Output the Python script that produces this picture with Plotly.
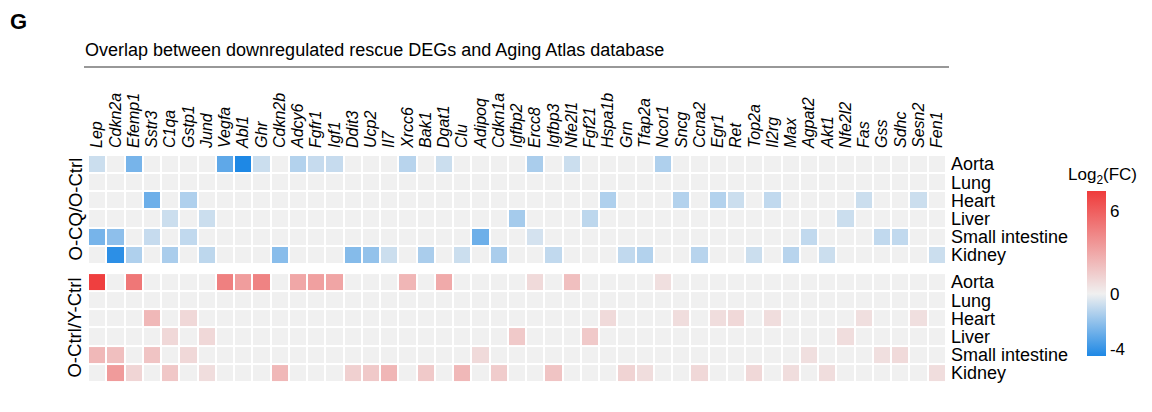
import plotly.graph_objects as go

genes = ["Lep", "Cdkn2a", "Efemp1", "Sstr3", "C1qa", "Gstp1", "Jund", "Vegfa", "Abl1", "Ghr",
         "Cdkn2b", "Adcy6", "Fgfr1", "Igf1", "Ddit3", "Ucp2", "Il7", "Xrcc6", "Bak1", "Dgat1",
         "Clu", "Adipoq", "Cdkn1a", "Igfbp2", "Ercc8", "Igfbp3", "Nfe2l1", "Fgf21", "Hspa1b", "Grn",
         "Tfap2a", "Ncor1", "Sncg", "Ccna2", "Egr1", "Ret", "Top2a", "Il2rg", "Max", "Agpat2",
         "Akt1", "Nfe2l2", "Fas", "Gss", "Sdhc", "Sesn2", "Fen1"]
tissues = ["Aorta", "Lung", "Heart", "Liver", "Small intestine", "Kidney"]
groups = ["O-CQ/O-Ctrl", "O-Ctrl/Y-Ctrl"]

# sparse values: {gene index: log2FC}
cq_aorta = {0: -0.8, 2: -2.6, 7: -3.1, 8: -4.5, 9: -0.8, 11: -1.3, 12: -0.9, 13: -0.9,
            17: -1.2, 19: -0.8, 24: -1.5, 26: -0.8, 31: -1.4}
cq_lung = {}
cq_heart = {3: -2.8, 5: -1.4, 28: -1.4, 32: -1.3, 34: -1.3, 35: -0.8, 37: -1.0, 42: -0.8, 45: -0.8}
cq_liver = {4: -0.8, 6: -0.8, 23: -1.6, 27: -1.1, 41: -0.8}
cq_si = {0: -2.6, 1: -2.1, 3: -0.9, 5: -1.0, 21: -2.8, 24: -0.6, 39: -1.0, 43: -1.0, 44: -1.0}
cq_kidney = {1: -4.2, 2: -1.4, 4: -1.5, 6: -1.1, 10: -2.2, 14: -2.3, 15: -2.0, 16: -0.8,
             18: -1.5, 20: -0.8, 22: -1.5, 25: -1.0, 29: -1.0, 30: -1.3, 33: -1.2, 36: -0.8,
             38: -1.2, 40: -0.8, 46: -0.8}

y_aorta = {0: 7.3, 2: 5.0, 7: 4.6, 8: 3.4, 9: 4.5, 11: 3.0, 12: 3.3, 13: 3.1, 17: 2.4,
           19: 2.9, 24: 0.9, 26: 2.0, 31: 0.7}
y_lung = {}
y_heart = {3: 2.3, 5: 1.0, 28: 0.9, 32: 0.8, 34: 0.8, 35: 1.0, 37: 0.8, 42: 0.7, 45: 0.7}
y_liver = {4: 1.0, 6: 1.0, 23: 1.6, 27: 1.6, 41: 0.8}
y_si = {0: 2.3, 1: 2.0, 3: 1.8, 5: 1.0, 21: 0.9, 39: 0.7, 43: 0.7, 44: 0.9}
y_kidney = {1: 3.5, 2: 1.1, 4: 1.7, 6: 0.8, 10: 2.3, 14: 1.3, 15: 1.6, 16: 2.4, 18: 1.6,
            20: 2.3, 22: 1.5, 25: 1.8, 29: 1.2, 30: 0.8, 33: 1.0, 36: 1.0, 38: 0.8, 40: 0.8, 46: 0.8}

zmin, zmax = -4.5, 7.45
cb_ticks = [-4, 0, 6]


def dense(rows):
    return [[r.get(i, 0.0) for i in range(len(genes))] for r in rows]


z_top = dense([cq_aorta, cq_lung, cq_heart, cq_liver, cq_si, cq_kidney])
z_bot = dense([y_aorta, y_lung, y_heart, y_liver, y_si, y_kidney])

FONT = "Liberation Sans, Arial, sans-serif"
OFF = 8                      # browser body margin
W, H = 1152 - 2 * OFF, 412 - 2 * OFF
# plot area bounds in screen pixels
SL, SR, ST, SB = 88, 946, 155, 382
L, R, T, B = SL - OFF, SR - OFF, ST - OFF, SB - OFF

def px(x):          # screen x -> paper
    return (x - SL) / (SR - SL)

def py(y):          # screen y -> paper
    return (SB - y) / (SB - ST)

mid = (0 - zmin) / (zmax - zmin)
cscale = [[0, "rgb(30,136,229)"], [mid, "rgb(240,240,240)"], [1, "rgb(239,59,59)"]]

fig = go.Figure()
fig.add_trace(go.Heatmap(z=z_top, x=genes, y=tissues, xaxis="x", yaxis="y",
                         colorscale=cscale, zmin=zmin, zmax=zmax, xgap=2, ygap=2,
                         showscale=True,
                         colorbar=dict(x=px(1087), xanchor="left", xpad=0, ypad=0,
                                       y=py(273.5), yanchor="middle",
                                       len=165, lenmode="pixels", thickness=19,
                                       outlinewidth=0, tickvals=cb_ticks,
                                       ticktext=[str(v) for v in cb_ticks], ticks="",
                                       tickfont=dict(family=FONT, size=17, color="black"))))
fig.add_trace(go.Heatmap(z=z_bot, x=genes, y=tissues, xaxis="x2", yaxis="y2",
                         colorscale=cscale, zmin=zmin, zmax=zmax, xgap=2, ygap=2,
                         showscale=False))

yax = dict(side="right", autorange="reversed", tickmode="array", tickvals=tissues,
           ticktext=tissues, tickfont=dict(size=18), showgrid=False, zeroline=False,
           ticks="", ticklabelstandoff=4, automargin=False)

fig.update_layout(
    width=W, height=H, plot_bgcolor="white", paper_bgcolor="white",
    margin=dict(l=L, r=W - R, t=T, b=H - B, autoexpand=False),
    font=dict(family=FONT, color="black"),
    xaxis=dict(domain=[0, 1], anchor="y", side="top", tickangle=-90,
               tickmode="array", tickvals=genes, ticktext=[f"<i>{g}</i>" for g in genes],
               tickfont=dict(size=16), showgrid=False, zeroline=False, ticks="", showline=False,
               automargin=False, ticklabelstandoff=6),
    yaxis=dict(domain=[0.52, 1], anchor="x", **yax),
    xaxis2=dict(domain=[0, 1], anchor="y2", matches="x", showticklabels=False,
                showgrid=False, zeroline=False, ticks="", automargin=False),
    yaxis2=dict(domain=[0, 0.48], anchor="x2", **yax),
)

# colorbar title
fig.add_annotation(text="Log<sub>2</sub>(FC)", x=px(1102), y=py(176), xref="paper", yref="paper",
                   xanchor="center", yanchor="middle", showarrow=False, font=dict(size=17))
# group labels
fig.add_annotation(text=groups[0], x=px(75), y=0.76, xref="paper", yref="paper",
                   xanchor="center", yanchor="middle",
                   textangle=-90, showarrow=False, font=dict(size=18.5))
fig.add_annotation(text=groups[1], x=px(75), y=0.24, xref="paper", yref="paper",
                   xanchor="center", yanchor="middle",
                   textangle=-90, showarrow=False, font=dict(size=18.5))
# title + panel letter
fig.add_annotation(text="Overlap between downregulated rescue DEGs and Aging Atlas database",
                   x=px(83), y=py(50), xref="paper", yref="paper", xanchor="left",
                   yanchor="middle", showarrow=False, font=dict(size=18))
fig.add_annotation(text="<b>G</b>", x=px(9), y=py(OFF), xref="paper", yref="paper",
                   xanchor="left", yanchor="top", borderpad=0, showarrow=False,
                   font=dict(size=22, family="Liberation Sans Narrow, Liberation Sans, Arial"))
fig.add_shape(type="line", xref="paper", yref="paper", x0=px(84), x1=px(949),
              y0=py(67), y1=py(67), line=dict(color="#333", width=1.2))

fig.write_html("out.html")
